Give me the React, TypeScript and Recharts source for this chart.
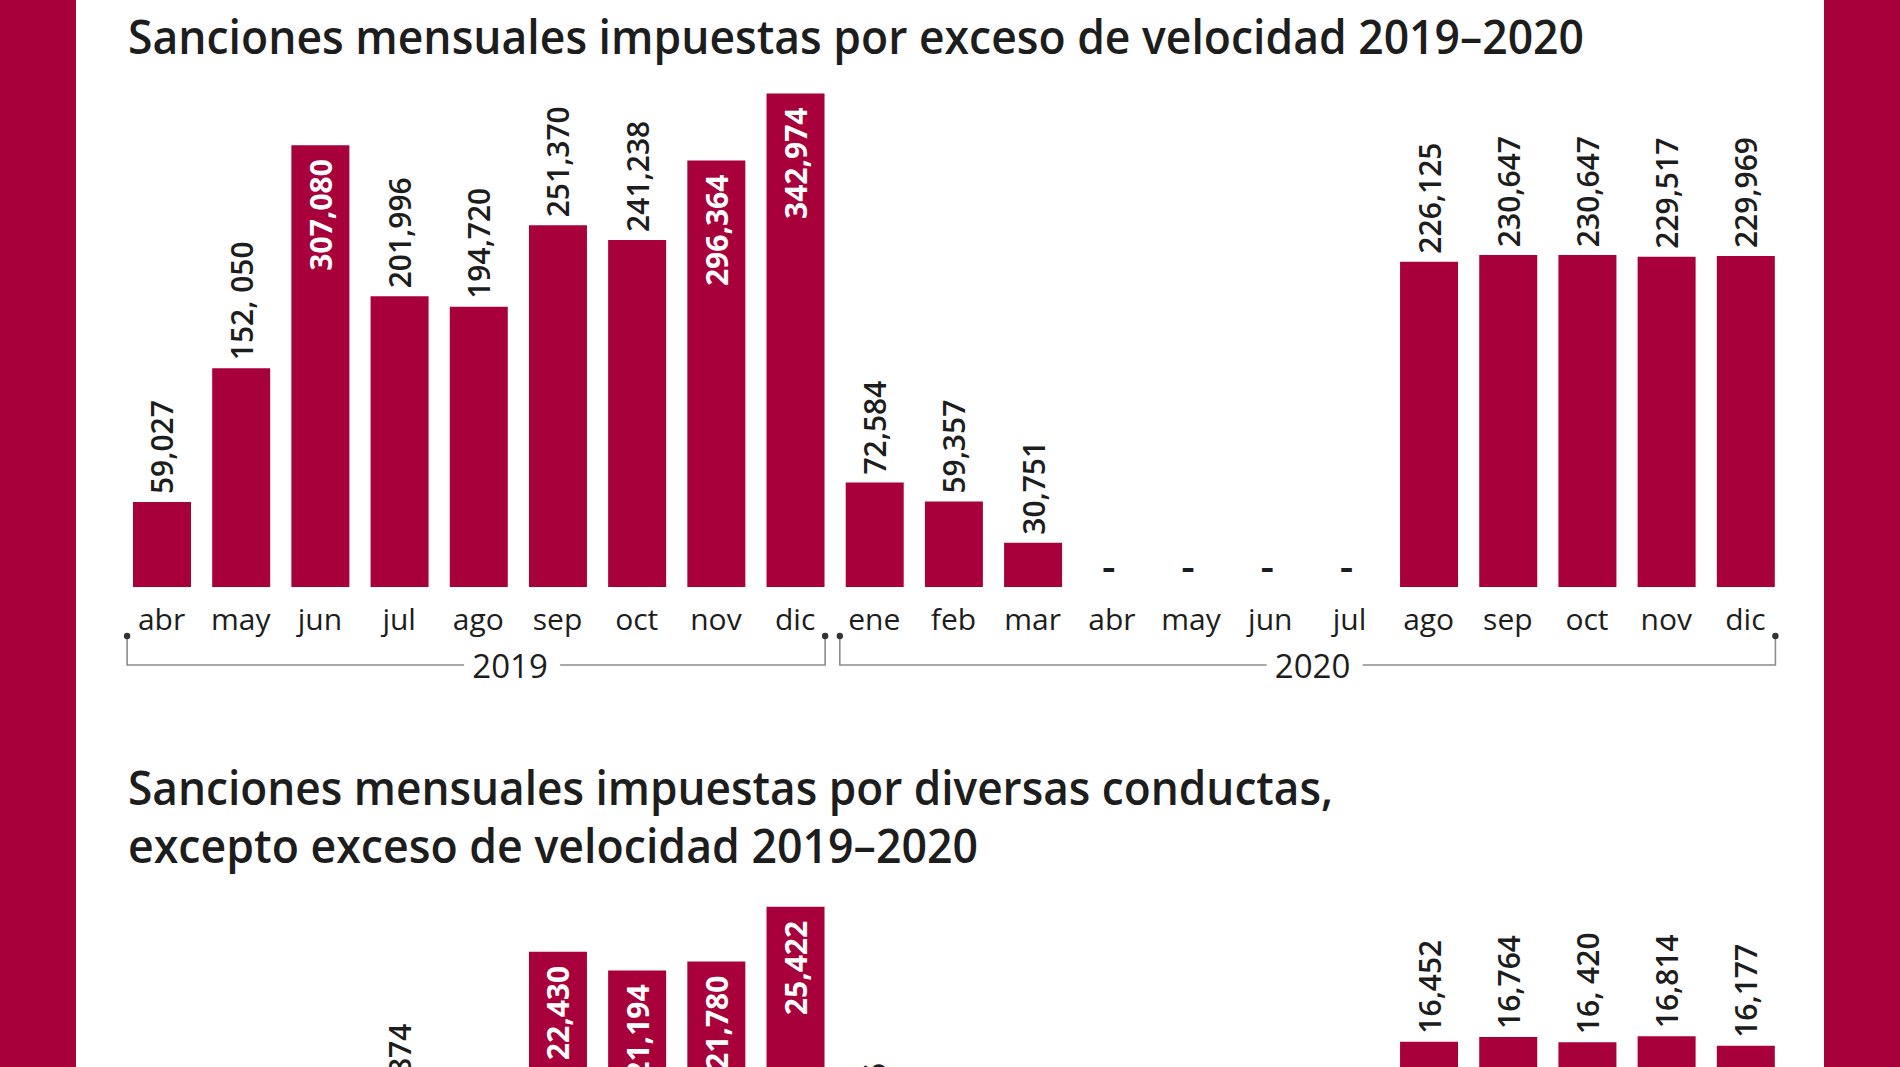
import React from 'react'
import { BarChart, Bar, XAxis, YAxis, LabelList } from 'recharts'

// months shown on the x axis (abr 2019 .. dic 2020)
const MONTHS = ['abr', 'may', 'jun', 'jul', 'ago', 'sep', 'oct', 'nov', 'dic', 'ene', 'feb', 'mar', 'abr', 'may', 'jun', 'jul', 'ago', 'sep', 'oct', 'nov', 'dic']
const YEAR_LABELS = ['2019', '2020']
const MONTHS_PER_YEAR = [9, 12]

// speeding fines per month (null = no data, shown as "-")
const SPEEDING = [59027, 152050, 307080, 201996, 194720, 251370, 241238, 296364, 342974, 72584, 59357, 30751, null, null, null, null, 226125, 230647, 230647, 229517, 229969]
const SPEEDING_LABELS = ['59,027', '152, 050', '307,080', '201,996', '194,720', '251,370', '241,238', '296,364', '342,974', '72,584', '59,357', '30,751', null, null, null, null, '226,125', '230,647', '230,647', '229,517', '229,969']

// other offences per month (lower months are cut off in the reference, estimated)
const OTHER = [5210, 6480, 7120, 10874, 7350, 22430, 21194, 21780, 25422, 9386, 6905, 4512, null, null, null, null, 16452, 16764, 16420, 16814, 16177]
const OTHER_LABELS = ['5,210', '6,480', '7,120', '10,874', '7,350', '22,430', '21,194', '21,780', '25,422', '9,386', '6,905', '4,512', null, null, null, null, '16,452', '16,764', '16, 420', '16,814', '16,177']

const CRIMSON = '#A8003A'
const INK = '#1d1d1d'
const PAGE_W = 1900
const PAGE_H = 1067
const MARGIN_L = 122
const MARGIN_R = 115
const PLOT_W = PAGE_W - MARGIN_L - MARGIN_R
const BAR_W = 58
const YEAR_LABEL_SHIFT = [34, 5]
const FONT = '"Open Sans", "Noto Sans", sans-serif'

const MonthTick = (props: any) => {
  const { x, y, payload, values } = props
  const i = payload.index
  const step = PLOT_W / MONTHS.length
  let bracket = null
  let start = 0
  MONTHS_PER_YEAR.forEach((count, g) => {
    if (i === start) {
      const x0 = x - BAR_W / 2 - 5.5
      const x1 = x + (count - 1) * step + BAR_W / 2 + 1
      const cx = (x0 + x1) / 2 + YEAR_LABEL_SHIFT[g]
      const dotY = y + 49
      const lineY = y + 78
      bracket = (
        <g>
          <path
            d={`M${x0},${dotY} V${lineY} H${cx - 46} M${cx + 50},${lineY} H${x1} V${dotY}`}
            fill="none"
            stroke="#8c8c8c"
            strokeWidth={1.6}
          />
          <circle cx={x0} cy={dotY} r={3.2} fill="#333" />
          <circle cx={x1} cy={dotY} r={3.2} fill="#333" />
          <text x={cx} y={y + 91} textAnchor="middle" fontSize={33} fill={INK} fontFamily={FONT}>
            {YEAR_LABELS[g]}
          </text>
        </g>
      )
    }
    start += count
  })
  return (
    <g>
      {values[i] == null && (
        <text x={x - 3} y={y - 6} textAnchor="middle" fontSize={42} fontWeight={600} fill={INK} fontFamily={FONT}>
          -
        </text>
      )}
      <text x={x} y={y + 43} textAnchor="middle" fontSize={30} fill={INK} fontFamily={FONT}>
        {payload.value}
      </text>
      {bracket}
    </g>
  )
}

const makeValueLabel = (insideAbove: number) => (props: any) => {
  const vb = props.viewBox || {}
  const x = props.x ?? vb.x
  const y = props.y ?? vb.y
  const width = props.width ?? vb.width
  const label = props.value
  if (label == null || x == null) return null
  const num = Number(String(label).replace(/\D/g, ''))
  const cx = x + width / 2
  const inside = num > insideAbove
  const ty = inside ? y + 14 : y - 8
  return (
    <text
      x={cx}
      y={ty}
      transform={`rotate(-90 ${cx} ${ty})`}
      textAnchor={inside ? 'end' : 'start'}
      dominantBaseline="central"
      fontSize={30}
      fontWeight={inside ? 700 : 600}
      fill={inside ? '#ffffff' : INK}
      fontFamily={FONT}
    >
      {label}
    </text>
  )
}

function MonthlyChart({ values, labels, top, height, marginTop, yMax, insideAbove }: any) {
  const data = MONTHS.map((m, i) => ({ month: m, value: values[i], label: labels[i] }))
  return (
    <div style={{ position: 'absolute', left: 0, top }}>
      <BarChart
        width={PAGE_W}
        height={height}
        data={data}
        margin={{ top: marginTop, right: MARGIN_R, bottom: 0, left: MARGIN_L }}
        barSize={BAR_W}
      >
        <YAxis hide domain={[0, yMax]} allowDataOverflow />
        <XAxis
          dataKey="month"
          interval={0}
          axisLine={false}
          tickLine={false}
          tickSize={0}
          tickMargin={0}
          height={113}
          tick={<MonthTick values={values} />}
        />
        <Bar dataKey="value" fill={CRIMSON} isAnimationActive={false}>
          <LabelList dataKey="label" content={makeValueLabel(insideAbove)} />
        </Bar>
      </BarChart>
    </div>
  )
}

export default function App() {
  return (
    <div style={{ position: 'relative', width: PAGE_W, height: PAGE_H, overflow: 'hidden', background: CRIMSON }}>
      <style>{'body{margin:0}'}</style>
      <div style={{ position: 'absolute', left: 76, top: 0, width: 1748, height: PAGE_H, background: '#ffffff' }} />
      <MonthlyChart
        values={SPEEDING}
        labels={SPEEDING_LABELS}
        top={0}
        height={700}
        marginTop={69}
        yMax={360000}
        insideAbove={280000}
      />
      <MonthlyChart
        values={OTHER}
        labels={OTHER_LABELS}
        top={760}
        height={642}
        marginTop={78}
        yMax={30000}
        insideAbove={20000}
      />
      <svg width={PAGE_W} height={PAGE_H} style={{ position: 'absolute', left: 0, top: 0, pointerEvents: 'none' }}>
        <g fontFamily={FONT} fontWeight={600} fontSize={47} fill={INK}>
          <text x={128} y={54} textLength={1456} lengthAdjust="spacingAndGlyphs">
            Sanciones mensuales impuestas por exceso de velocidad 2019–2020
          </text>
          <text x={128} y={805} textLength={1205} lengthAdjust="spacingAndGlyphs">
            Sanciones mensuales impuestas por diversas conductas,
          </text>
          <text x={128} y={863} textLength={850} lengthAdjust="spacingAndGlyphs">
            excepto exceso de velocidad 2019–2020
          </text>
        </g>
      </svg>
    </div>
  )
}
